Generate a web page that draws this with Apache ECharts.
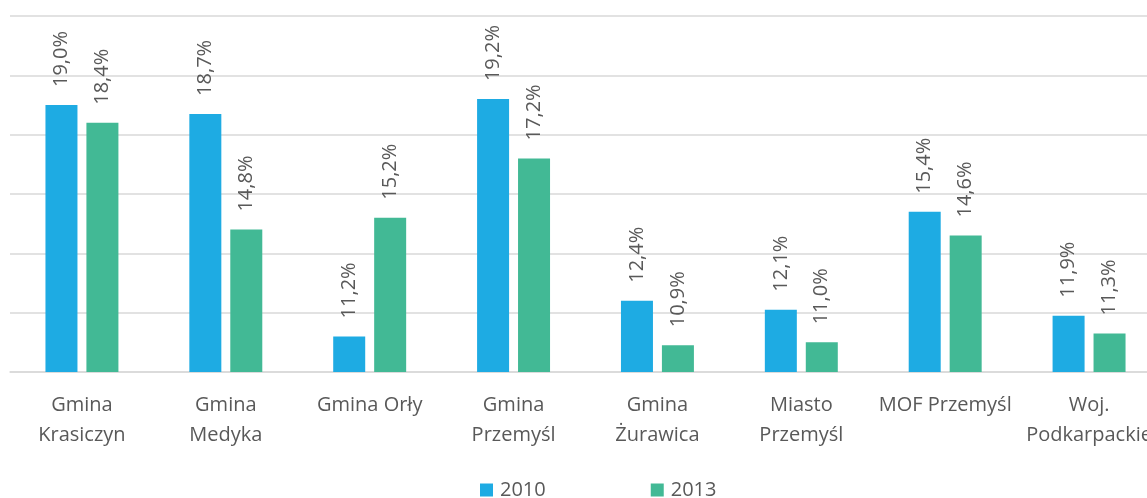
<!DOCTYPE html>
<html>
<head>
<meta charset="utf-8">
<script src="https://cdn.jsdelivr.net/npm/echarts@6/dist/echarts.min.js"></script>
<style>
  html, body { margin: 0; padding: 0; background: #fff; }
  #chart { width: 1147px; height: 498px; }
</style>
</head>
<body>
<div id="chart"></div>
<script>
const categories = [
  'Gmina\nKrasiczyn', 'Gmina\nMedyka', 'Gmina Orły', 'Gmina\nPrzemyśl',
  'Gmina\nŻurawica', 'Miasto\nPrzemyśl', 'MOF Przemyśl', 'Woj.\nPodkarpackie'
]
const seriesNames = ['2010', '2013']
const values2010 = [19.0, 18.7, 11.2, 19.2, 12.4, 12.1, 15.4, 11.9]
const values2013 = [18.4, 14.8, 15.2, 17.2, 10.9, 11.0, 14.6, 11.3]
const colors = ['#1eabe3', '#42b995']

const textColor = '#595959'
const fontFamily = '"Open Sans", sans-serif'

const chart = echarts.init(document.getElementById('chart'))

function barLabel() {
  return {
    show: true,
    position: 'top',
    rotate: 90,
    align: 'left',
    verticalAlign: 'middle',
    distance: 18,
    color: textColor,
    fontFamily: fontFamily,
    fontSize: 20,
    formatter: (p) => p.value.toFixed(1).replace('.', ',') + '%'
  }
}

chart.setOption({
  animation: false,
  color: colors,
  textStyle: { fontFamily: fontFamily },
  grid: {
    left: 10,
    top: 16,
    width: 1151,
    bottom: 126,
    containLabel: false,
    outerBoundsMode: 'none'
  },
  legend: {
    data: seriesNames,
    left: 475,
    top: 475,
    itemWidth: 13,
    itemHeight: 13,
    itemGap: 105,
    icon: 'rect',
    textStyle: { color: textColor, fontSize: 20, fontFamily: fontFamily, padding: [0, 0, 0, 2] }
  },
  xAxis: {
    type: 'category',
    data: categories,
    axisTick: { show: false },
    axisLine: { lineStyle: { color: '#d9d9d9', width: 1.5 } },
    axisLabel: {
      interval: 0,
      margin: 18,
      color: textColor,
      fontSize: 20,
      lineHeight: 30,
      fontFamily: fontFamily
    }
  },
  yAxis: {
    type: 'value',
    min: 10,
    max: 22,
    interval: 2,
    axisLabel: { show: false },
    axisLine: { show: false },
    axisTick: { show: false },
    splitLine: { lineStyle: { color: '#d9d9d9', width: 1.5 } }
  },
  series: [
    {
      name: seriesNames[0],
      type: 'bar',
      data: values2010,
      barWidth: 32,
      barGap: '28%',
      label: barLabel()
    },
    {
      name: seriesNames[1],
      type: 'bar',
      data: values2013,
      barWidth: 32,
      barGap: '28%',
      label: barLabel()
    }
  ]
})
</script>
</body>
</html>
